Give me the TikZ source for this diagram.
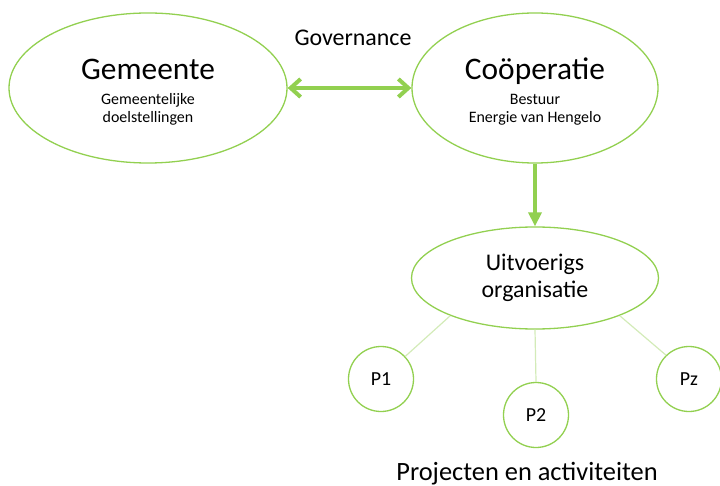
\documentclass[tikz,border=0pt]{standalone}
\usepackage{fontspec}
\setmainfont{Carlito}
\usetikzlibrary{arrows.meta, shapes.geometric, positioning}
\definecolor{leaf}{HTML}{92D050}
\definecolor{leaflight}{HTML}{D3EBB8}

\begin{document}
\begin{tikzpicture}[x=1bp, y=-1bp,
    bubble/.style={ellipse, draw=leaf, line width=1.3bp, inner sep=0pt, align=center, font=\fontsize{16}{18}\selectfont},
    proj/.style={circle, draw=leaf, line width=1.3bp, minimum size=65bp, inner sep=0pt, font=\fontsize{20}{22}\selectfont},
    thick arrow/.style={leaf, line width=4bp}]
        \useasboundingbox (0,0) rectangle (720,486);

        \node[bubble, minimum width=278bp, minimum height=150bp] (gem) at (148,88)
            {\rule{0pt}{28bp}{\fontsize{31.5}{31.5}\selectfont Gemeente}\\[7bp]Gemeentelijke\\doelstellingen};
        \node[bubble, minimum width=246bp, minimum height=150bp] (coop) at (535,88)
            {\rule{0pt}{28bp}{\fontsize{31.5}{31.5}\selectfont Coöperatie}\\[7bp]Bestuur\\Energie van Hengelo};
        \node[bubble, minimum width=247bp, minimum height=102bp, font=\fontsize{24}{27}\selectfont] (uit) at (535,278)
            {Uitvoerigs\\organisatie};

        \node[font=\fontsize{24}{26}\selectfont] (gov) at (353,38) {Governance};

        \node[proj] (p1) at (381,379) {P1};
        \node[proj] (p2) at (536,415) {P2};
        \node[proj] (pz) at (689,379) {Pz};

        \node[anchor=base, font=\fontsize{26.5}{28}\selectfont] (act) at (527,480) {Projecten en activiteiten};

        % Draw arrows
        \draw[thick arrow, {Straight Barb[length=10bp, width=18bp]}-{Straight Barb[length=10bp, width=18bp]}] (gem.east) -- (coop.west);
        \draw[thick arrow, -{Triangle[length=14bp, width=13bp]}] (coop.south) -- (uit.north);

        % Draw project lines
        \draw[leaflight, line width=1.2bp] (uit.204) -- (p1.43);
        \draw[leaflight, line width=1.2bp] (uit.south) -- (p2.north);
        \draw[leaflight, line width=1.2bp] (uit.-24) -- (pz.134);

\end{tikzpicture}
\end{document}
